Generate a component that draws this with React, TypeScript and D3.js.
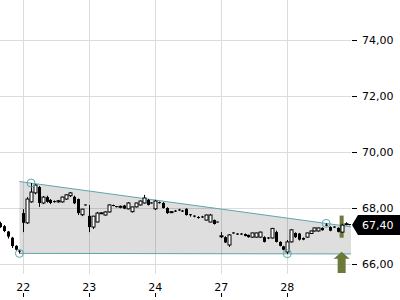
import React from "react";
import * as d3 from "d3";

const days = ["21", "22", "23", "24", "27", "28"];
const slotsPerDay = 17;
const firstSlot = 11;

const open = [
  67.47, 67.36, 67.17, 66.95, 66.66, 66.47,
  67.83, 67.48, 68.23, 68.55, 68.76, 68.19, 68.40, 68.30, 68.24, 68.23, 68.23, 68.33, 68.45, 68.41, 68.33, 67.77, 68.12,
  67.73, 67.33, 67.51, 67.83, 67.76, 67.87, 68.10, 68.06, 68.05, 68.10, 67.98, 67.88, 68.05, 68.12, 68.19, 68.30, 68.19,
  67.98, 68.20, 68.19, 68.01, 67.87, 67.90, 67.94, 67.90, 67.98, 67.77, 67.72, 67.67, 67.69, 67.58, 67.51, 67.58, 67.51,
  67.01, 66.97, 66.69, 67.12, 67.08, 67.08, 67.08, 67.05, 66.97, 66.97, 66.97, 66.97, 66.94, 66.94, 67.15, 66.80, 66.64,
  66.44, 66.80, 67.12, 67.10, 66.94, 66.97, 67.10, 67.19, 67.19, 67.30, 67.40, 67.33, 67.33, 67.30, 67.15, 67.43, 67.42,
];
const high = [
  67.52, 67.40, 67.19, 66.98, 66.68, 66.50,
  67.97, 68.40, 68.90, 68.86, 68.80, 68.44, 68.45, 68.33, 68.28, 68.30, 68.42, 68.50, 68.58, 68.45, 68.35, 67.98, 68.13,
  68.12, 67.73, 67.87, 67.85, 67.90, 68.14, 68.13, 68.08, 68.10, 68.12, 68.22, 68.06, 68.20, 68.28, 68.48, 68.33, 68.21,
  68.30, 68.24, 68.22, 68.04, 67.90, 67.94, 67.98, 67.94, 68.00, 67.79, 67.75, 67.72, 67.73, 67.78, 67.80, 67.60, 67.52,
  67.15, 67.00, 67.08, 67.14, 67.11, 67.11, 67.10, 67.06, 67.13, 67.13, 67.17, 67.00, 66.97, 67.30, 67.20, 66.82, 66.66,
  66.87, 67.26, 67.14, 67.12, 66.96, 67.13, 67.20, 67.31, 67.31, 67.32, 67.47, 67.36, 67.36, 67.32, 67.45, 67.50, 67.43,
];
const low = [
  67.30, 67.15, 66.92, 66.58, 66.48, 66.39,
  67.15, 67.44, 68.20, 68.50, 68.05, 68.15, 68.20, 68.15, 68.20, 68.20, 68.20, 68.30, 68.40, 68.15, 67.76, 67.72, 68.10,
  67.15, 67.26, 67.50, 67.80, 67.74, 67.85, 68.07, 68.03, 68.00, 67.97, 67.96, 67.85, 68.03, 68.10, 68.17, 68.10, 68.17,
  67.94, 68.17, 67.99, 67.80, 67.85, 67.87, 67.91, 67.87, 67.74, 67.70, 67.68, 67.63, 67.66, 67.56, 67.50, 67.42, 67.50,
  66.94, 66.76, 66.62, 67.09, 67.05, 67.05, 67.00, 66.95, 66.95, 66.95, 66.95, 66.78, 66.90, 66.92, 66.78, 66.64, 66.50,
  66.37, 66.78, 66.94, 66.85, 66.86, 66.95, 67.08, 67.17, 67.17, 67.20, 67.36, 67.18, 67.30, 67.14, 67.12, 67.40, 67.39,
];
const close = [
  67.33, 67.19, 66.99, 66.65, 66.52, 66.44,
  67.48, 68.33, 68.58, 68.83, 68.19, 68.40, 68.23, 68.19, 68.23, 68.27, 68.40, 68.48, 68.55, 68.18, 67.83, 67.97, 68.11,
  67.33, 67.72, 67.83, 67.84, 67.87, 68.12, 68.10, 68.05, 68.07, 67.99, 68.19, 68.05, 68.19, 68.26, 68.37, 68.12, 68.19,
  68.26, 68.20, 68.01, 67.83, 67.88, 67.90, 67.94, 67.90, 67.76, 67.74, 67.70, 67.67, 67.69, 67.76, 67.76, 67.44, 67.51,
  67.02, 66.78, 67.05, 67.12, 67.08, 67.08, 67.01, 66.97, 67.12, 67.12, 67.15, 66.80, 66.94, 67.28, 66.80, 66.66, 66.52,
  66.80, 67.23, 66.97, 66.88, 66.88, 67.12, 67.19, 67.30, 67.30, 67.22, 67.40, 67.20, 67.33, 67.16, 67.40, 67.45, 67.40,
];

const priceTicks = [66, 68, 70, 72, 74];
const lastPrice = 67.4;

// triangle pattern (slot position, price)
const patternTop = [
  { p: 16, v: 68.957 },
  { p: 101.5, v: 67.337 },
];
const patternBottom = [
  { p: 16, v: 66.39 },
  { p: 101.5, v: 66.37 },
];
const pivots = [
  { p: 19, v: 68.9 },
  { p: 95, v: 67.46 },
  { p: 16, v: 66.39 },
  { p: 85, v: 66.38 },
];
// signal marker
const signal = { p: 99, top: 67.74, bottom: 66.95, arrowTip: 66.45, arrowBase: 66.05 };

const W = 400;
const H = 300;
const plotRight = 351;
const plotBottom = 274;
const font = "DejaVu Sans, Verdana, sans-serif";
const teal = "#5ea6ad";
const green = "#6b7a3a";

export default function App() {
  const x = d3.scaleLinear().domain([0, days.length * slotsPerDay]).range([-42.7, 353.3]);
  const y = d3.scaleLinear().domain([66, 74]).range([264.3, 40.3]);

  const candles = open.map((o, i) => ({
    p: firstSlot + i,
    o,
    h: high[i],
    l: low[i],
    c: close[i],
  }));

  const dayStarts = days
    .map((d, i) => ({ label: d, p: i * slotsPerDay }))
    .filter((d) => x(d.p) >= 0 && x(d.p) <= plotRight);

  const area = d3
    .area<number>()
    .x((_, i) => x(patternTop[i].p))
    .y0((_, i) => y(patternBottom[i].v))
    .y1((_, i) => y(patternTop[i].v));
  const line = d3
    .line<{ p: number; v: number }>()
    .x((d) => x(d.p))
    .y((d) => y(d.v));

  const sx = x(signal.p);
  const tipY = y(signal.arrowTip);
  const headY = tipY + 7;
  const baseY = y(signal.arrowBase) + 10;
  const arrowPath = `M${sx},${tipY} L${sx + 8},${headY} L${sx + 4},${headY} L${sx + 4},${baseY} L${sx - 4},${baseY} L${sx - 4},${headY} L${sx - 8},${headY} Z`;

  const ly = y(lastPrice);

  return (
    <svg
      width={W}
      height={H}
      style={{ position: "absolute", left: 0, top: 0, background: "#fff" }}
      fontFamily={font}
    >
      <defs>
        <clipPath id="plot">
          <rect x={0} y={0} width={plotRight} height={plotBottom} />
        </clipPath>
      </defs>
      <g clipPath="url(#plot)">
        {priceTicks.map((t) => (
          <line
            key={"h" + t}
            x1={0}
            x2={plotRight}
            y1={Math.round(y(t)) + 0.5}
            y2={Math.round(y(t)) + 0.5}
            stroke="#dcdcdc"
            strokeWidth={1}
          />
        ))}
        {dayStarts.map((d) => (
          <line
            key={"v" + d.label}
            x1={Math.round(x(d.p)) + 0.5}
            x2={Math.round(x(d.p)) + 0.5}
            y1={0}
            y2={plotBottom}
            stroke="#dcdcdc"
            strokeWidth={1}
          />
        ))}
        <path d={area([0, 1]) || ""} fill="#000" fillOpacity={0.13} />
        <path d={line(patternTop) || ""} fill="none" stroke={teal} strokeWidth={1} />
        <path d={line(patternBottom) || ""} fill="none" stroke={teal} strokeWidth={1} />
        <rect
          x={sx - 2}
          y={y(signal.top)}
          width={4}
          height={y(signal.bottom) - y(signal.top)}
          fill={green}
        />
        {candles.map((c, i) => {
          const cx = Math.round(x(c.p)) + 0.5;
          const up = c.c > c.o;
          const top = y(Math.max(c.o, c.c));
          const bot = y(Math.min(c.o, c.c));
          const bh = Math.max(1, bot - top);
          return (
            <g key={i}>
              <line x1={cx} x2={cx} y1={y(c.h)} y2={y(c.l)} stroke="#000" strokeWidth={1} />
              {up ? (
                <rect x={cx - 1.5} y={top} width={3} height={bh} fill="#fff" stroke="#000" strokeWidth={1} />
              ) : bh <= 1.2 ? (
                <line x1={cx - 1.5} x2={cx + 1.5} y1={top} y2={top} stroke="#000" strokeWidth={1} />
              ) : (
                <rect x={cx - 1.5} y={top} width={3} height={bh} fill="#000" />
              )}
            </g>
          );
        })}
        {pivots.map((pv, i) => (
          <circle key={"c" + i} cx={x(pv.p)} cy={y(pv.v)} r={4} fill="none" stroke={teal} strokeWidth={1} />
        ))}
        <path d={arrowPath} fill={green} />
      </g>

      {priceTicks.map((t) => (
        <g key={"t" + t}>
          <line x1={352} x2={357} y1={Math.round(y(t)) + 0.5} y2={Math.round(y(t)) + 0.5} stroke="#000" strokeWidth={1} />
          <text x={362} y={y(t) + 4} fontSize={11} fill="#000">
            {d3.format(".2f")(t).replace(".", ",")}
          </text>
        </g>
      ))}
      {dayStarts.map((d) => (
        <g key={"xt" + d.label}>
          <text x={x(d.p)} y={290.5} fontSize={11} fill="#000" textAnchor="middle">
            {d.label}
          </text>
          <line
            x1={Math.round(x(d.p)) + 0.5}
            x2={Math.round(x(d.p)) + 0.5}
            y1={293}
            y2={297}
            stroke="#000"
            strokeWidth={1}
          />
        </g>
      ))}
      <path
        d={`M352,${ly} L358,${ly - 10} L400,${ly - 10} L400,${ly + 10} L358,${ly + 10} Z`}
        fill="#000"
      />
      <text x={362} y={ly + 4} fontSize={11} fill="#fff">
        {d3.format(".2f")(lastPrice).replace(".", ",")}
      </text>
    </svg>
  );
}
